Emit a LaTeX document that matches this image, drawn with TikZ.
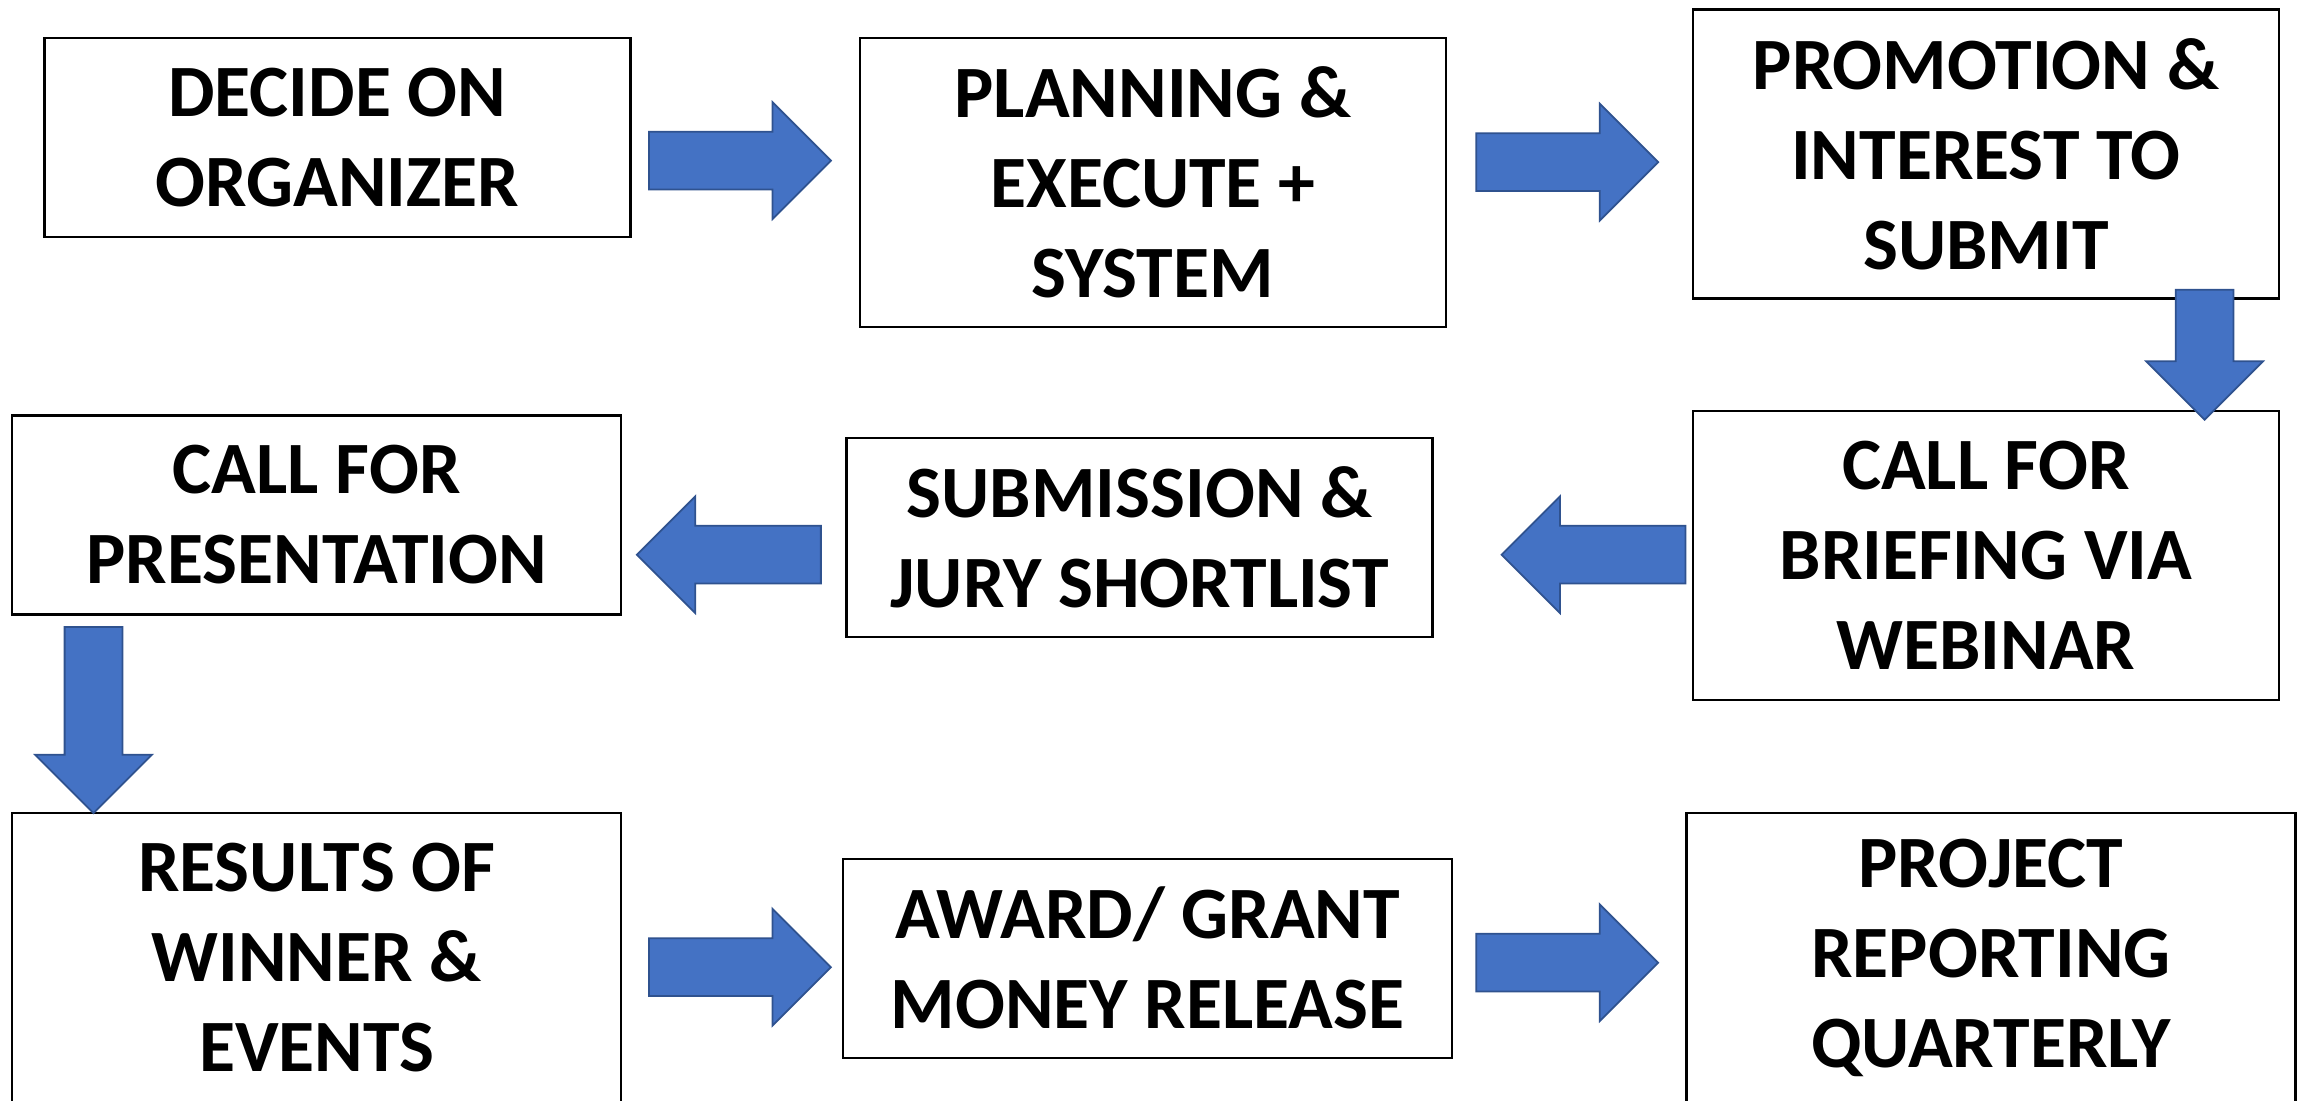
\documentclass[tikz,border=0pt]{standalone}
\usepackage{fontspec}
\setmainfont{Carlito}
\usetikzlibrary{shapes.arrows}
\definecolor{flowfill}{HTML}{4472C4}
\definecolor{flowline}{HTML}{2F528F}
\begin{document}
\begin{tikzpicture}[stage/.style={draw,line width=0.7pt,align=center,inner sep=0pt,
				minimum width=5.86cm,minimum height=1.99cm,
				font=\fontsize{21}{25.6}\selectfont\bfseries},
				tall/.style={minimum height=2.89cm},
				wide/.style={minimum width=6.09cm},
				flow/.style={single arrow,draw=flowline,fill=flowfill,line width=0.5pt,
				inner sep=0.28cm,minimum width=1.15cm,single arrow head extend=0.295cm,
				minimum height=1.82cm},
				flowleft/.style={flow,shape border rotate=180},
				flowdown/.style={flow,shape border rotate=270}
]
\useasboundingbox (0,0) rectangle (23.1,-11);
% first row
\node[stage] (organizer) at (3.374,-1.377) {DECIDE ON\\ORGANIZER};
\node[stage,tall] (planning) at (11.528,-1.827) {PLANNING \&\\EXECUTE +\\SYSTEM};
\node[stage,tall] (promotion) at (19.859,-1.539) {PROMOTION \&\\INTEREST TO\\SUBMIT};
% second row
\node[stage,wide] (presentation) at (3.167,-5.149) {CALL FOR\\PRESENTATION};
\node[stage] (submission) at (11.395,-5.377) {SUBMISSION \&\\JURY SHORTLIST};
\node[stage,tall] (briefing) at (19.859,-5.554) {CALL FOR\\BRIEFING VIA\\WEBINAR};
% third row
\node[stage,wide,tall] (results) at (3.167,-9.576) {RESULTS OF\\WINNER \&\\EVENTS};
\node[stage,wide] (award) at (11.476,-9.583) {AWARD/ GRANT\\MONEY RELEASE};
\node[stage,wide,tall] (reporting) at (19.910,-9.576) {PROJECT\\REPORTING\\QUARTERLY};
% block arrows
\node[flow] (toplanning) at (7.255,-1.606) {};
\node[flow] (topromotion) at (15.527,-1.621) {};
\node[flowdown,minimum height=1.30cm] (tobriefing) at (22.046,-3.403) {};
\node[flowleft,minimum height=1.84cm] (tosubmission) at (16.080,-5.547) {};
\node[flowleft,minimum height=1.84cm] (topresentation) at (7.433,-5.547) {};
\node[flowdown,minimum height=1.86cm] (toresults) at (0.935,-7.056) {};
\node[flow] (toaward) at (7.255,-9.672) {};
\node[flow] (toreporting) at (15.527,-9.627) {};
\end{tikzpicture}
\end{document}
